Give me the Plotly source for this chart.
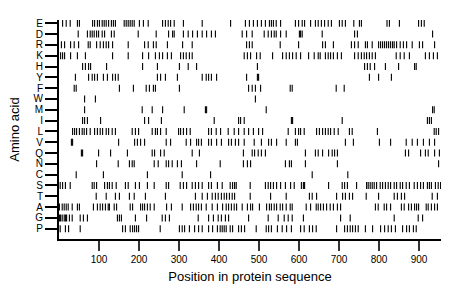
import plotly.graph_objects as go

# Amino acid rows, top to bottom as shown
amino_acids = ["E", "D", "R", "K", "H", "Y", "F", "W", "M", "I",
               "L", "V", "Q", "N", "C", "S", "T", "A", "G", "P"]

pos_E = [9, 18, 28, 46, 51, 84, 89, 96, 101, 108, 113, 118, 124, 131, 136, 141, 163, 168, 173, 178, 183, 188,
         201, 211, 223, 259, 266, 273, 279, 288, 311, 358, 429, 466, 476, 486, 496, 506, 516, 526, 531, 536,
         543, 554, 591, 599, 608, 614, 629, 641, 648, 656, 664, 673, 681, 701, 708, 716, 737, 751, 756, 820,
         826, 851, 899, 906, 913]
pos_D = [48, 71, 78, 83, 88, 94, 99, 108, 114, 131, 138, 198, 243, 274, 284, 288, 311, 323, 334, 346, 358, 369,
         381, 391, 458, 469, 483, 513, 523, 531, 538, 543, 554, 568, 601, 604, 608, 658, 739, 746, 934]
pos_R = [6, 14, 29, 38, 49, 73, 78, 94, 103, 111, 118, 124, 134, 173, 214, 223, 236, 243, 271, 309, 333, 469,
         476, 483, 553, 599, 659, 666, 686, 731, 739, 748, 766, 771, 783, 799, 804, 809, 814, 819, 824, 829,
         834, 838, 844, 853, 861, 869, 883, 901, 909, 939]
pos_K = [4, 9, 14, 29, 46, 66, 134, 173, 209, 224, 241, 251, 259, 271, 281, 304, 311, 318, 326, 333, 463, 471,
         479, 494, 503, 534, 559, 568, 576, 584, 593, 604, 624, 638, 648, 653, 666, 673, 679, 686, 696, 706,
         739, 748, 756, 763, 769, 776, 783, 791, 843, 853, 863, 876, 916, 926, 936, 946]
pos_H = [59, 66, 74, 79, 119, 209, 246, 301, 323, 344, 496, 764, 771, 778, 789, 816, 849, 889, 893]
pos_Y = [41, 74, 83, 89, 96, 111, 121, 134, 141, 148, 246, 254, 266, 296, 358, 368, 374, 381, 394, 469, 496,
         499, 776, 799, 831]
pos_F = [38, 43, 151, 186, 218, 226, 236, 241, 301, 474, 483, 491, 504, 578, 583, 693, 713]
pos_W = [64, 91, 491]
pos_M = [64, 208, 233, 259, 313, 366, 369, 518, 934, 938]
pos_I = [59, 64, 71, 104, 214, 224, 256, 388, 449, 454, 463, 581, 584, 708, 921, 926, 931]
pos_L = [34, 39, 44, 51, 58, 63, 69, 78, 89, 96, 103, 109, 118, 124, 133, 141, 183, 191, 199, 233, 241, 246,
         254, 268, 299, 304, 311, 319, 328, 374, 381, 393, 404, 423, 438, 449, 463, 474, 486, 499, 509, 573,
         591, 599, 604, 613, 644, 651, 659, 666, 673, 679, 688, 698, 726, 733, 796, 938, 943, 949]
pos_V = [31, 34, 149, 189, 196, 204, 214, 268, 279, 318, 329, 344, 349, 356, 374, 381, 394, 406, 424, 431, 441,
         449, 463, 488, 506, 524, 531, 544, 568, 591, 596, 716, 736, 801, 829, 868, 883, 896, 911, 926, 939]
pos_Q = [56, 59, 99, 129, 171, 233, 239, 254, 263, 333, 351, 461, 483, 489, 498, 506, 516, 616, 641, 648, 659,
         674, 683, 689, 696, 866, 874, 904, 916, 923, 939, 951]
pos_N = [94, 148, 176, 183, 188, 238, 248, 268, 274, 283, 296, 306, 344, 403, 461, 471, 479, 566, 576, 581,
         616, 696, 949]
pos_C = [43, 111, 221, 308, 379, 633, 722]
pos_S = [3, 9, 16, 28, 83, 88, 94, 114, 121, 126, 133, 143, 166, 173, 191, 201, 221, 238, 268, 274, 303, 311,
         319, 333, 341, 349, 358, 374, 381, 396, 408, 428, 434, 439, 443, 478, 516, 523, 529, 536, 544, 554,
         566, 579, 588, 606, 611, 614, 674, 708, 714, 721, 744, 769, 773, 778, 783, 788, 794, 803, 809, 816,
         823, 829, 838, 844, 853, 859, 868, 876, 888, 896, 904, 911, 921, 926, 931, 941, 948, 954]
pos_T = [93, 118, 141, 151, 176, 188, 216, 266, 341, 358, 371, 383, 391, 398, 406, 413, 419, 426, 433, 439,
         478, 529, 568, 626, 633, 644, 694, 709, 716, 726, 734, 768, 799, 838, 846, 856, 864, 933, 946]
pos_A = [1, 8, 13, 18, 23, 33, 46, 51, 86, 96, 103, 109, 116, 123, 126, 138, 144, 178, 184, 204, 209, 214,
         221, 228, 238, 269, 281, 308, 329, 336, 343, 349, 356, 368, 383, 396, 409, 418, 424, 431, 438, 444,
         458, 471, 479, 484, 501, 519, 526, 531, 538, 544, 553, 559, 568, 578, 583, 618, 629, 643, 648, 654,
         661, 669, 678, 686, 696, 704, 791, 798, 813, 819, 829, 856, 863, 874, 881, 889, 894, 899, 918, 923,
         931, 939, 946]
pos_G = [1, 4, 8, 13, 16, 19, 26, 33, 53, 61, 71, 146, 151, 156, 191, 219, 258, 266, 276, 348, 374, 386, 398,
         406, 416, 424, 474, 523, 548, 563, 573, 583, 611, 704, 728, 838, 898, 909]
pos_P = [3, 16, 24, 53, 159, 166, 178, 184, 189, 194, 199, 253, 301, 308, 314, 326, 339, 349, 358, 374, 384,
         396, 403, 408, 413, 418, 428, 434, 449, 456, 464, 493, 518, 524, 531, 546, 558, 569, 581, 604, 613,
         626, 634, 643, 694, 714, 721, 728, 734, 741, 748, 766, 784, 804, 814, 823, 831, 841, 859, 869, 876,
         886, 893]

x_ticks = [100, 200, 300, 400, 500, 600, 700, 800, 900]

rows = [("E", pos_E), ("D", pos_D), ("R", pos_R), ("K", pos_K), ("H", pos_H), ("Y", pos_Y),
        ("F", pos_F), ("W", pos_W), ("M", pos_M), ("I", pos_I), ("L", pos_L), ("V", pos_V),
        ("Q", pos_Q), ("N", pos_N), ("C", pos_C), ("S", pos_S), ("T", pos_T), ("A", pos_A),
        ("G", pos_G), ("P", pos_P)]

xs, ys = [], []
for aa, positions in rows:
    xs.extend(positions)
    ys.extend([aa] * len(positions))

fig = go.Figure(go.Scatter(
    x=xs, y=ys, mode="markers",
    marker=dict(symbol="line-ns-open", size=5, color="black",
                line=dict(width=1.1, color="black")),
    hoverinfo="x+y",
))

font = "Liberation Sans, Arial, Helvetica, sans-serif"
fig.update_layout(
    width=460, height=299,
    margin=dict(l=59, r=19, t=20, b=60),
    paper_bgcolor="white", plot_bgcolor="white",
    showlegend=False,
    font=dict(family=font, color="black"),
)
fig.update_xaxes(
    range=[0, 955], tickmode="array", tickvals=x_ticks, ticks="outside", ticklen=10, tickwidth=1.5,
    tickcolor="#333", showline=True, linewidth=2, linecolor="black", automargin=False,
    showgrid=False, zeroline=False, tickfont=dict(size=10, color="black"),
    title=dict(text="Position in protein sequence", font=dict(size=13, color="black"), standoff=8),
)
fig.update_yaxes(
    type="category", categoryorder="array", categoryarray=amino_acids[::-1],
    tickmode="array", tickvals=amino_acids, ticktext=amino_acids,
    range=[-0.95, 19.3], ticks="outside", ticklen=12, tickwidth=2, tickcolor="black",
    showline=True, linewidth=2, linecolor="black", showgrid=False, zeroline=False, automargin=False,
    tickfont=dict(size=10, color="black"),
    title=dict(text="Amino acid", font=dict(size=13, color="black"), standoff=11),
)

fig.write_html("out.html", config={"displayModeBar": False},
               post_script="document.body.style.margin='0';")
